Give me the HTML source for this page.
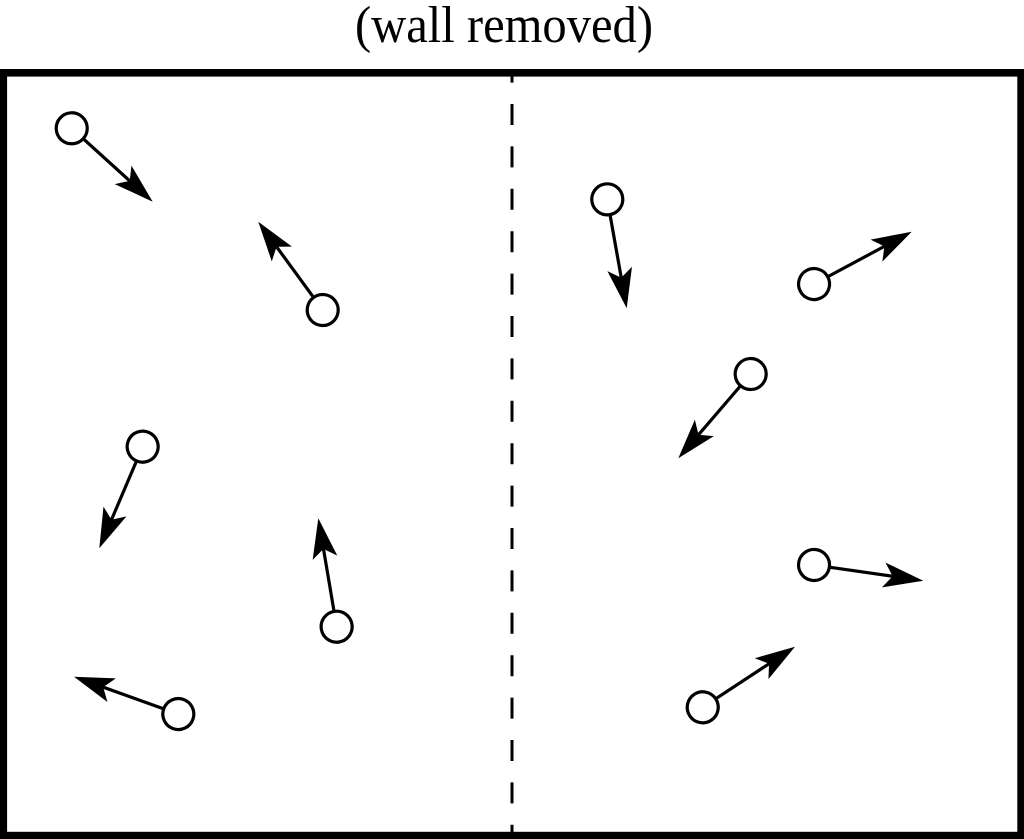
<!DOCTYPE html>
<html>
<head>
<meta charset="utf-8">
<style>
  html, body { margin: 0; padding: 0; background: #ffffff; }
  body { width: 1024px; height: 839px; overflow: hidden; }
  svg { display: block; }
</style>
</head>
<body>
<svg width="1024" height="839" viewBox="0 0 1024 839" xmlns="http://www.w3.org/2000/svg">

  <text x="504" y="42" font-family="'Liberation Serif', 'Times New Roman', serif" font-size="52" text-anchor="middle" textLength="298" lengthAdjust="spacingAndGlyphs" fill="#000">(wall removed)</text>

  <!-- dashed divider -->
  <line x1="512" y1="76" x2="512" y2="832" stroke="#000" stroke-width="3" stroke-dasharray="21 21.4" stroke-dashoffset="14.4"/>

  <!-- box -->
  <rect x="3.3" y="72.8" width="1017.8" height="762.8" fill="none" stroke="#000" stroke-width="7.6"/>

  <g fill="#fff" stroke="#000" stroke-width="3.2">
    <!-- 1 -->
    <g transform="translate(152.7,201.7) rotate(42.2)">
      <line x1="-93.8" y1="0" x2="-30" y2="0"/>
      <circle cx="-109.3" cy="0" r="15.5"/>
      <path d="M0,0 L-40,-12.5 L-31,0 L-40,12.5 Z" fill="#000" stroke="none"/>
    </g>
    <!-- 2 -->
    <g transform="translate(258.3,221.7) rotate(-126.1)">
      <line x1="-93.8" y1="0" x2="-30" y2="0"/>
      <circle cx="-109.3" cy="0" r="15.5"/>
      <path d="M0,0 L-40,-12.5 L-31,0 L-40,12.5 Z" fill="#000" stroke="none"/>
    </g>
    <!-- 3 -->
    <g transform="translate(99.3,548.3) rotate(113.1)">
      <line x1="-95" y1="0" x2="-30" y2="0"/>
      <circle cx="-110.5" cy="0" r="15.5"/>
      <path d="M0,0 L-40,-12.5 L-31,0 L-40,12.5 Z" fill="#000" stroke="none"/>
    </g>
    <!-- 4 -->
    <g transform="translate(318.3,518.3) rotate(-99.6)">
      <line x1="-94.4" y1="0" x2="-30" y2="0"/>
      <circle cx="-109.95" cy="0" r="15.5"/>
      <path d="M0,0 L-40,-12.5 L-31,0 L-40,12.5 Z" fill="#000" stroke="none"/>
    </g>
    <!-- 5 -->
    <g transform="translate(74,676.7) rotate(-160.3)">
      <line x1="-95.3" y1="0" x2="-30" y2="0"/>
      <circle cx="-110.8" cy="0" r="15.5"/>
      <path d="M0,0 L-40,-12.5 L-31,0 L-40,12.5 Z" fill="#000" stroke="none"/>
    </g>
    <!-- 6 -->
    <g transform="translate(626.7,308.3) rotate(79.9)">
      <line x1="-95.2" y1="0" x2="-30" y2="0"/>
      <circle cx="-110.7" cy="0" r="15.5"/>
      <path d="M0,0 L-40,-12.5 L-31,0 L-40,12.5 Z" fill="#000" stroke="none"/>
    </g>
    <!-- 7 -->
    <g transform="translate(911.7,231.7) rotate(-28.2)">
      <line x1="-95.3" y1="0" x2="-30" y2="0"/>
      <circle cx="-110.8" cy="0" r="15.5"/>
      <path d="M0,0 L-40,-12.5 L-31,0 L-40,12.5 Z" fill="#000" stroke="none"/>
    </g>
    <!-- 8 -->
    <g transform="translate(678.3,458.3) rotate(130.65)">
      <line x1="-95.6" y1="0" x2="-30" y2="0"/>
      <circle cx="-111.1" cy="0" r="15.5"/>
      <path d="M0,0 L-40,-12.5 L-31,0 L-40,12.5 Z" fill="#000" stroke="none"/>
    </g>
    <!-- 9 -->
    <g transform="translate(923.3,580.7) rotate(8.2)">
      <line x1="-94.9" y1="0" x2="-30" y2="0"/>
      <circle cx="-110.4" cy="0" r="15.5"/>
      <path d="M0,0 L-40,-12.5 L-31,0 L-40,12.5 Z" fill="#000" stroke="none"/>
    </g>
    <!-- 10 -->
    <g transform="translate(795,646.7) rotate(-33.3)">
      <line x1="-94.9" y1="0" x2="-30" y2="0"/>
      <circle cx="-110.4" cy="0" r="15.5"/>
      <path d="M0,0 L-40,-12.5 L-31,0 L-40,12.5 Z" fill="#000" stroke="none"/>
    </g>
  </g>
</svg>
</body>
</html>
